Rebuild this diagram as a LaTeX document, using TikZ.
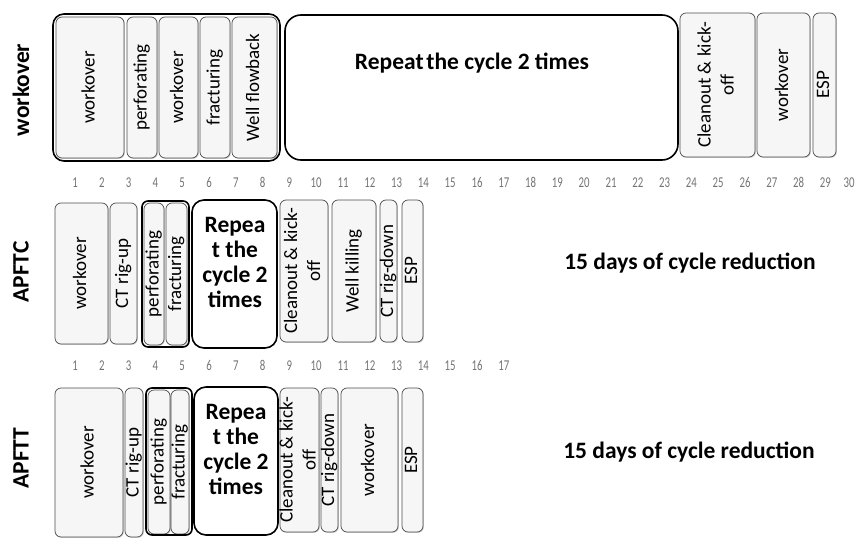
\documentclass[tikz,border=0pt]{standalone}
\usepackage{fontspec}
\setmainfont{Carlito}
\usepackage{graphicx}
\usetikzlibrary{shadows}
\tikzset{
  stepbox/.style={draw=gray!60!black, line width=0.7pt, rounded corners=6pt, fill=gray!7, inner sep=0pt,
    drop shadow={shadow xshift=0.9pt, shadow yshift=-0.9pt, opacity=0.35}},
  boxtext/.style={inner sep=0pt, font=\fontsize{19}{23}\selectfont},
  grpbox/.style={draw=black, line width=1.6pt, inner sep=0pt},
  repbox/.style={draw=black, line width=1.6pt, fill=white, inner sep=0pt},
  bigtext/.style={font=\bfseries\fontsize{23.5}{25}\selectfont, align=center, inner sep=0pt},
  numtext/.style={font=\fontsize{15}{15}\selectfont, text=black!55, inner sep=0pt, anchor=base, xscale=0.72}
}
\newcommand\tbox[6]{%
  \node[stepbox, minimum width={(#3-#2)*1pt}, minimum height={(#5-#4)*1pt}] (#1) at ({(#2+#3)/2},{(#4+#5)/2}) {};
  \node[boxtext] (#1-t) at (#1.center) {\rotatebox{90}{\begin{tabular}{@{}c@{}}#6\end{tabular}}};}
\newcommand\rbox[6]{%
  \node[repbox, rounded corners=#6, minimum width={(#3-#2)*1pt}, minimum height={(#5-#4)*1pt}] (#1) at ({(#2+#3)/2},{(#4+#5)/2}) {};}
\newcommand\gbox[6]{%
  \node[grpbox, rounded corners=#6, minimum width={(#3-#2)*1pt}, minimum height={(#5-#4)*1pt}] (#1) at ({(#2+#3)/2},{(#4+#5)/2}) {};}
\begin{document}
\begin{tikzpicture}[x=1pt,y=-1pt]
\useasboundingbox (0,0) rectangle (855,549);
% left labels
\node[bigtext, rotate=90] (lw) at (21,90) {workover};
\node[bigtext, rotate=90] (lc) at (21,272) {APFTC};
\node[bigtext, rotate=90] (lt) at (21,458) {APFTT};
% ---------- row 1
\tbox{a1}{56}{124}{17}{158}{workover}
\tbox{a2}{127}{157}{17}{158}{perforating}
\tbox{a3}{159}{198}{17}{158}{workover}
\tbox{a4}{200}{230}{17}{158}{fracturing}
\tbox{a5}{232}{277}{17}{158}{Well flowback}
\gbox{ga}{53}{280}{14}{161}{11pt}
\rbox{ra}{285}{678}{15}{160}{16pt}
\node[bigtext] (ra-t) at (472,63) {Repeat\hspace{-2.5pt} the cycle 2 times};
\tbox{a6}{680}{755}{13}{157}{Cleanout \& kick-\\off}
\tbox{a7}{757}{810}{13}{157}{workover}
\tbox{a8}{813}{836}{13}{157}{ESP}
\foreach \i in {1,...,29} \node[numtext] (na\i) at ({75+(\i-1)*26.8},187) {\i};
\node[numtext] (na30) at (849,187) {30};
% ---------- row 2
\tbox{b1}{55}{108}{203}{344}{workover}
\tbox{b2}{110}{137}{203}{344}{CT rig-up}
\tbox{b3}{144}{164}{203}{345}{perforating}
\tbox{b4}{166}{187}{203}{345}{fracturing}
\gbox{gb}{142}{189}{201}{347}{6pt}
\rbox{rb}{192}{277}{200}{348}{12pt}
\node[bigtext] (rb-t) at (235,262) {Repea\\t the\\cycle 2\\times};
\tbox{b5}{280}{328}{200}{342}{Cleanout \& kick-\\off}
\tbox{b6}{332}{376}{200}{342}{Well killing}
\tbox{b7}{380}{397}{200}{342}{CT rig-down}
\tbox{b8}{402}{423}{200}{342}{ESP}
\foreach \i in {1,...,17} \node[numtext] (nb\i) at ({75+(\i-1)*26.8},370) {\i};
\node[bigtext] (cb) at (690,263) {15 days of cycle reduction};
% ---------- row 3
\tbox{c1}{55}{123}{388}{537}{workover}
\tbox{c2}{125}{143}{388}{537}{CT rig-up}
\tbox{c3}{148}{170}{390}{534}{perforating}
\tbox{c4}{171}{189}{390}{534}{fracturing}
\gbox{gc}{146}{192}{388}{535}{6pt}
\rbox{rc}{194}{278}{387}{535}{12pt}
\node[bigtext] (rc-t) at (236,449) {Repea\\t the\\cycle 2\\times};
\tbox{c5}{280}{319}{388}{532}{Cleanout \& kick-\\off}
\tbox{c6}{321}{338}{388}{532}{CT rig-down}
\tbox{c7}{341}{398}{388}{532}{workover}
\tbox{c8}{402}{423}{388}{532}{ESP}
\node[bigtext] (cc) at (689,452) {15 days of cycle reduction};
\end{tikzpicture}
\end{document}
